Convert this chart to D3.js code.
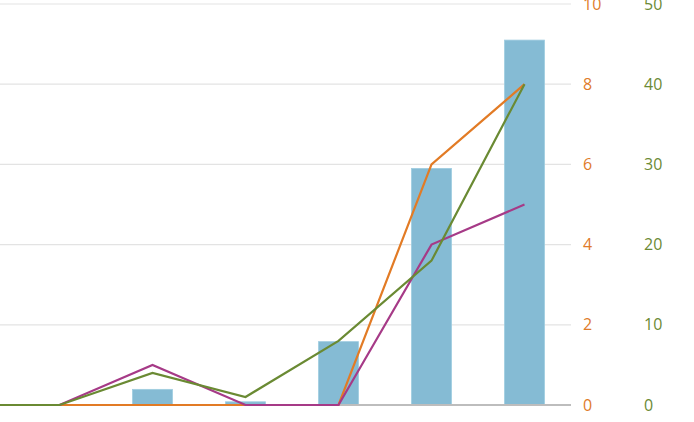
<!DOCTYPE html>
<html><head><meta charset="utf-8">
<script src="https://cdn.jsdelivr.net/npm/d3@7"></script>
<style>
html,body{margin:0;padding:0;background:#fff;overflow:hidden}
svg{display:block;font-family:"Open Sans",sans-serif}
</style></head>
<body>
<svg id="chart" width="694" height="422"></svg>
<script>
// categories (first one lies off the visible area to the left)
const categories = ["2012","2013","2014","2015","2016","2017","2018"];
const barValues   = [0, 0, 0.39, 0.08, 1.58, 5.9, 9.1];   // bars (left scale, hidden)
const orangeVals  = [0, 0, 0, 0, 0, 6, 8];                  // orange axis 0-10
const magentaVals = [0, 0, 1, 0, 0, 4, 5];                  // orange axis 0-10
const greenVals   = [0, 0, 4, 1, 8, 18, 40];                // green axis 0-50
const orangeTicks = [0, 2, 4, 6, 8, 10];
const greenTicks  = [0, 10, 20, 30, 40, 50];

(function () {
const svg = d3.select("#chart");
const plotTop = 4, plotBottom = 405, gridRight = 571;

const x = d3.scaleBand().domain(categories).range([-80, 571]).padding(0);
const yBar = d3.scaleLinear().domain([0, 10]).range([plotBottom, plotTop]);
const yO = d3.scaleLinear().domain([0, 10]).range([plotBottom, plotTop]);
const yG = d3.scaleLinear().domain([0, 50]).range([plotBottom, plotTop]);

// gridlines
svg.append("g").selectAll("line").data(orangeTicks.filter(d => d > 0)).join("line")
  .attr("x1", 0).attr("x2", gridRight)
  .attr("y1", d => yO(d)).attr("y2", d => yO(d))
  .attr("stroke", "#e3e3e3").attr("stroke-width", 1.2);

// bars
const bw = x.bandwidth() * 0.43;
svg.append("g").selectAll("rect").data(barValues.map((v, i) => ({c: categories[i], v})).filter(d => d.v > 0)).join("rect")
  .attr("x", d => x(d.c) + x.bandwidth() / 2 - bw / 2)
  .attr("width", bw)
  .attr("y", d => yBar(d.v))
  .attr("height", d => plotBottom - yBar(d.v))
  .attr("fill", "#85bbd4")
  .attr("stroke", "#9fcde0").attr("stroke-width", 0.8);

// baseline
svg.append("line").attr("x1", 0).attr("x2", gridRight)
  .attr("y1", plotBottom).attr("y2", plotBottom)
  .attr("stroke", "#bdbdbd").attr("stroke-width", 2.2);

const cx = c => x(c) + x.bandwidth() / 2;
function drawLine(vals, scale, color) {
  const line = d3.line().x((d, i) => cx(categories[i])).y(d => scale(d));
  svg.append("path").datum(vals).attr("d", line)
    .attr("fill", "none").attr("stroke", color).attr("stroke-width", 2.2)
    .attr("stroke-linejoin", "miter");
}
drawLine(orangeVals, yO, "#e27b25");
drawLine(magentaVals, yO, "#a63a87");
drawLine(greenVals, yG, "#6a8a33");

// right axes
const axO = d3.axisRight(yO).tickValues(orangeTicks).tickSize(0).tickPadding(0);
const gO = svg.append("g").attr("transform", "translate(583,0)").call(axO);
gO.select(".domain").remove();
gO.selectAll("text").attr("fill", "#e07b2a").attr("font-size", 16).attr("x", 0)
  .attr("text-anchor", "start").attr("font-family", "'Open Sans',sans-serif");

const axG = d3.axisRight(yG).tickValues(greenTicks).tickSize(0).tickPadding(0);
const gG = svg.append("g").attr("transform", "translate(644,0)").call(axG);
gG.select(".domain").remove();
gG.selectAll("text").attr("fill", "#6b8a35").attr("font-size", 16).attr("x", 0)
  .attr("text-anchor", "start").attr("font-family", "'Open Sans',sans-serif");
})();
</script>
</body></html>
